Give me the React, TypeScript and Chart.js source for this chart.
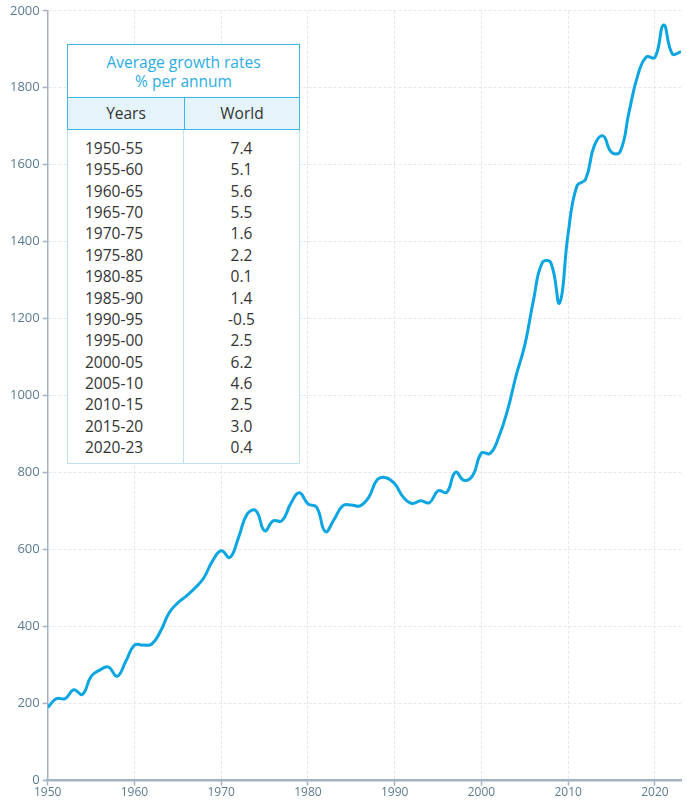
import React, { useEffect, useRef } from "react";
import { Chart, registerables } from "chart.js";

Chart.register(...registerables);

const years = [
  1950, 1951, 1952, 1953, 1954, 1955, 1956, 1957, 1958, 1959,
  1960, 1961, 1962, 1963, 1964, 1965, 1966, 1967, 1968, 1969,
  1970, 1971, 1972, 1973, 1974, 1975, 1976, 1977, 1978, 1979,
  1980, 1981, 1982, 1983, 1984, 1985, 1986, 1987, 1988, 1989,
  1990, 1991, 1992, 1993, 1994, 1995, 1996, 1997, 1998, 1999,
  2000, 2001, 2002, 2003, 2004, 2005, 2006, 2007, 2008, 2009,
  2010, 2011, 2012, 2013, 2014, 2015, 2016, 2017, 2018, 2019,
  2020, 2021, 2022, 2023,
];

const worldValues = [
  190, 213, 213, 236, 224, 271, 287, 295, 271, 310,
  352, 352, 355, 388, 436, 462, 480, 501, 527, 571,
  597, 580, 632, 693, 701, 649, 675, 675, 719, 748,
  719, 710, 647, 678, 714, 716, 714, 736, 782, 787,
  771, 736, 720, 727, 722, 753, 749, 801, 780, 793,
  851, 850, 893, 962, 1053, 1132, 1249, 1345, 1345, 1241,
  1423, 1545, 1562, 1649, 1675, 1632, 1635, 1736, 1831, 1880,
  1879, 1963, 1888, 1894,
];

const xTickValues = [1950, 1960, 1970, 1980, 1990, 2000, 2010, 2020];

const tableTitle = ["Average growth rates", "% per annum"];
const tableHeaders = ["Years", "World"];
const periods = [
  "1950-55", "1955-60", "1960-65", "1965-70", "1970-75", "1975-80", "1980-85",
  "1985-90", "1990-95", "1995-00", "2000-05", "2005-10", "2010-15", "2015-20", "2020-23",
];
const growthRates = [
  "7.4", "5.1", "5.6", "5.5", "1.6", "2.2", "0.1", "1.4", "-0.5", "2.5",
  "6.2", "4.6", "2.5", "3.0", "0.4",
];

const FONT = "'Open Sans', 'Noto Sans', sans-serif";

export default function App() {
  const canvasRef = useRef<HTMLCanvasElement | null>(null);

  useEffect(() => {
    document.body.style.margin = "0";
    const canvas = canvasRef.current;
    if (!canvas) return;
    const chart = new Chart(canvas, {
      type: "line",
      data: {
        datasets: [
          {
            data: years.map((y, i) => ({ x: y, y: worldValues[i] })),
            borderColor: "#0ba5e2",
            borderWidth: 3,
            pointRadius: 0,
            tension: 0.45,
            fill: false,
          },
        ],
      },
      options: {
        animation: false,
        responsive: false,
        maintainAspectRatio: false,
        layout: { padding: { top: 6, right: 6, left: 7, bottom: 0 } },
        plugins: { legend: { display: false }, tooltip: { enabled: false } },
        scales: {
          x: {
            type: "linear",
            min: 1950,
            max: 2023,
            afterBuildTicks: (scale: any) => {
              scale.ticks = xTickValues.map((v) => ({ value: v }));
            },
            ticks: {
              color: "#5b7a92",
              font: { family: FONT, size: 12 },
              padding: 0,
              maxRotation: 0,
              autoSkip: false,
              callback: (v: any) => String(v),
            },
            grid: {
              color: "#e3e7ee",
              lineWidth: 1,
              tickLength: 5,
              tickColor: "#a3b2c2",
              tickWidth: 1.5,
            },
            border: { color: "#a3b2c2", width: 2.5, dash: [3, 2] },
          },
          y: {
            type: "linear",
            min: 0,
            max: 2000,
            ticks: {
              stepSize: 200,
              color: "#5b7a92",
              font: { family: FONT, size: 13 },
              padding: 3,
              callback: (v: any) => String(v),
            },
            grid: {
              color: "#e3e7ee",
              lineWidth: 1,
              tickLength: 5,
              tickColor: "#a3b2c2",
              tickWidth: 1.5,
            },
            border: { color: "#a3b2c2", width: 1.5, dash: [3, 2] },
          },
        },
      },
    });
    return () => chart.destroy();
  }, []);

  const cyan = "#3db5e6";
  const light = "#bfe1f1";

  return (
    <div style={{ position: "relative", width: 687, height: 800, fontFamily: FONT }}>
      <canvas ref={canvasRef} width={687} height={800} style={{ display: "block" }} />
      <div
        style={{
          position: "absolute",
          left: 67,
          top: 44,
          width: 233,
          height: 420,
          boxSizing: "border-box",
          background: "#ffffff",
        }}
      >
        <div
          style={{
            height: 53,
            boxSizing: "border-box",
            border: `1.5px solid ${cyan}`,
            borderBottom: "none",
            color: "#2aace4",
            fontSize: 15.5,
            lineHeight: "19px",
            textAlign: "center",
            paddingTop: 8,
          }}
        >
          <div>{tableTitle[0]}</div>
          <div>{tableTitle[1]}</div>
        </div>
        <div
          style={{
            height: 33,
            boxSizing: "border-box",
            border: `1.5px solid ${cyan}`,
            background: "#e5f3fb",
            display: "flex",
            color: "#333",
            fontSize: 15.5,
          }}
        >
          <div
            style={{
              width: 116,
              borderRight: `1.5px solid ${cyan}`,
              textAlign: "center",
              lineHeight: "31px",
            }}
          >
            {tableHeaders[0]}
          </div>
          <div style={{ flex: 1, textAlign: "center", lineHeight: "31px" }}>{tableHeaders[1]}</div>
        </div>
        <div
          style={{
            height: 334,
            boxSizing: "border-box",
            border: `1.5px solid ${light}`,
            borderTop: "none",
            display: "flex",
            color: "#333",
            fontSize: 15.5,
          }}
        >
          <div
            style={{
              width: 116,
              borderRight: `1.5px solid ${light}`,
              paddingTop: 8,
              paddingLeft: 17,
              boxSizing: "border-box",
            }}
          >
            {periods.map((p) => (
              <div key={p} style={{ height: 21.36, lineHeight: "21.36px" }}>
                {p}
              </div>
            ))}
          </div>
          <div style={{ flex: 1, paddingTop: 8, textAlign: "center" }}>
            {growthRates.map((g, i) => (
              <div key={i} style={{ height: 21.36, lineHeight: "21.36px" }}>
                {g}
              </div>
            ))}
          </div>
        </div>
      </div>
    </div>
  );
}
